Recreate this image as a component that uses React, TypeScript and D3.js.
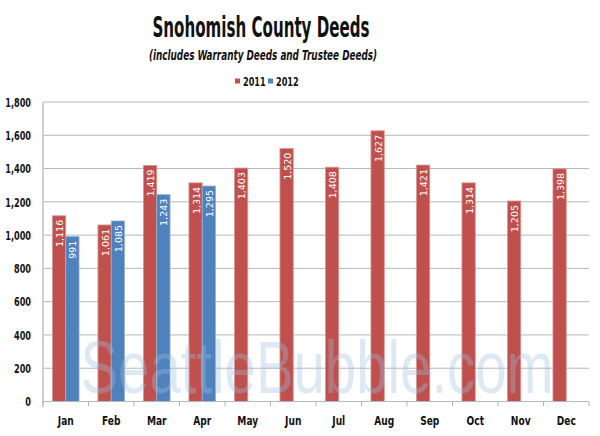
import React from "react";
import * as d3 from "d3";

const months = ["Jan","Feb","Mar","Apr","May","Jun","Jul","Aug","Sep","Oct","Nov","Dec"];
const values2011 = [1116,1061,1419,1314,1403,1520,1408,1627,1421,1314,1205,1398];
const values2012 = [991,1085,1243,1295];
const yTicks = [0,200,400,600,800,1000,1200,1400,1600,1800];
const seriesNames = ["2011","2012"];
const colors = ["#c0504d","#4f81bd"];
const strokes = ["#d99694","#95b3d7"];

const W = 600, H = 436;
const left = 43, right = 589, top = 102, bottom = 401.5;
const FONT = "'DejaVu Sans', sans-serif";

function NText(props: { x: number; y: number; sx?: number; anchor?: string; size: number; weight?: string; italic?: boolean; children: React.ReactNode }) {
  const { x, y, sx = 0.72, anchor = "middle", size, weight = "bold", italic } = props;
  return (
    <g transform={`translate(${x},${y}) scale(${sx},1)`}>
      <text x={0} y={0} textAnchor={anchor} dominantBaseline="central" fontFamily={FONT} fontSize={size} fontWeight={weight} fontStyle={italic ? "italic" : "normal"} fill="#111">{props.children}</text>
    </g>
  );
}

export default function App() {
  const x = d3.scaleBand<string>().domain(months).range([left, right]).paddingInner(0).paddingOuter(0);
  const y = d3.scaleLinear().domain([0, 1800]).range([bottom, top]);
  const bw = 13.3;
  const fmt = d3.format(",");
  const series = [values2011, values2012];

  return (
    <svg width={W} height={H} style={{ position: "absolute", left: 0, top: 0, background: "#fff" }}>
      <rect width={W} height={H} fill="#fff" />
      <text x={261} y={37} textAnchor="middle" fontFamily={FONT} fontSize={28} fontWeight="bold" fill="#111" textLength={217} lengthAdjust="spacingAndGlyphs">Snohomish County Deeds</text>
      <text x={263} y={60} textAnchor="middle" fontFamily={FONT} fontStyle="italic" fontWeight="bold" fontSize={14.5} fill="#111" textLength={228} lengthAdjust="spacingAndGlyphs">(includes Warranty Deeds and Trustee Deeds)</text>
      {seriesNames.map((s, i) => (
        <g key={s}>
          <rect x={235 + i * 33} y={78.5} width={5} height={5} fill={colors[i]} />
          <NText x={243 + i * 33} y={81} anchor="start" size={12} sx={0.68}>{s}</NText>
        </g>
      ))}
      {yTicks.map(t => (
        <g key={t}>
          {t > 0 && <line x1={left} x2={right} y1={y(t)} y2={y(t)} stroke="#b4b8bc" strokeWidth={1} />}
          <NText x={31} y={y(t)} anchor="end" size={12} sx={0.68}>{fmt(t)}</NText>
        </g>
      ))}
      {series.map((vals, si) => vals.map((v, i) => {
        const cx = x(months[i])! + x.bandwidth() / 2;
        const bx = cx - bw + si * bw;
        return (
          <g key={`${si}-${i}`}>
            <rect x={bx} y={y(v)} width={bw} height={bottom - y(v)} fill={colors[si]} stroke={strokes[si]} strokeWidth={0.8} />
            <text transform={`translate(${bx + bw / 2 + 0.5},${y(v) + 4}) rotate(-90)`} textAnchor="end" dominantBaseline="central" fontFamily="'DejaVu Sans', sans-serif" fontSize={9.5} fill="#fff">{fmt(v)}</text>
          </g>
        );
      }))}
      <text x={317} y={393} textAnchor="middle" fontFamily="'Liberation Sans', Arial, sans-serif" fontSize={74} fill="#9cc0e0" fillOpacity={0.35} textLength={473} lengthAdjust="spacingAndGlyphs">SeattleBubble.com</text>
      <line x1={left} x2={left} y1={top} y2={bottom + 5} stroke="#cfcfcf" strokeWidth={2} />
      <line x1={left} x2={right} y1={bottom} y2={bottom} stroke="#b4b8bc" strokeWidth={1} />
      {months.map((m) => (
        <line key={m} x1={x(m)!} x2={x(m)!} y1={bottom} y2={bottom + 5} stroke="#b4b8bc" />
      ))}
      <line x1={right} x2={right} y1={bottom} y2={bottom + 5} stroke="#b4b8bc" />
      {months.map(m => (
        <NText key={m} x={x(m)! + x.bandwidth() / 2} y={421} size={13} sx={0.7}>{m}</NText>
      ))}
    </svg>
  );
}
